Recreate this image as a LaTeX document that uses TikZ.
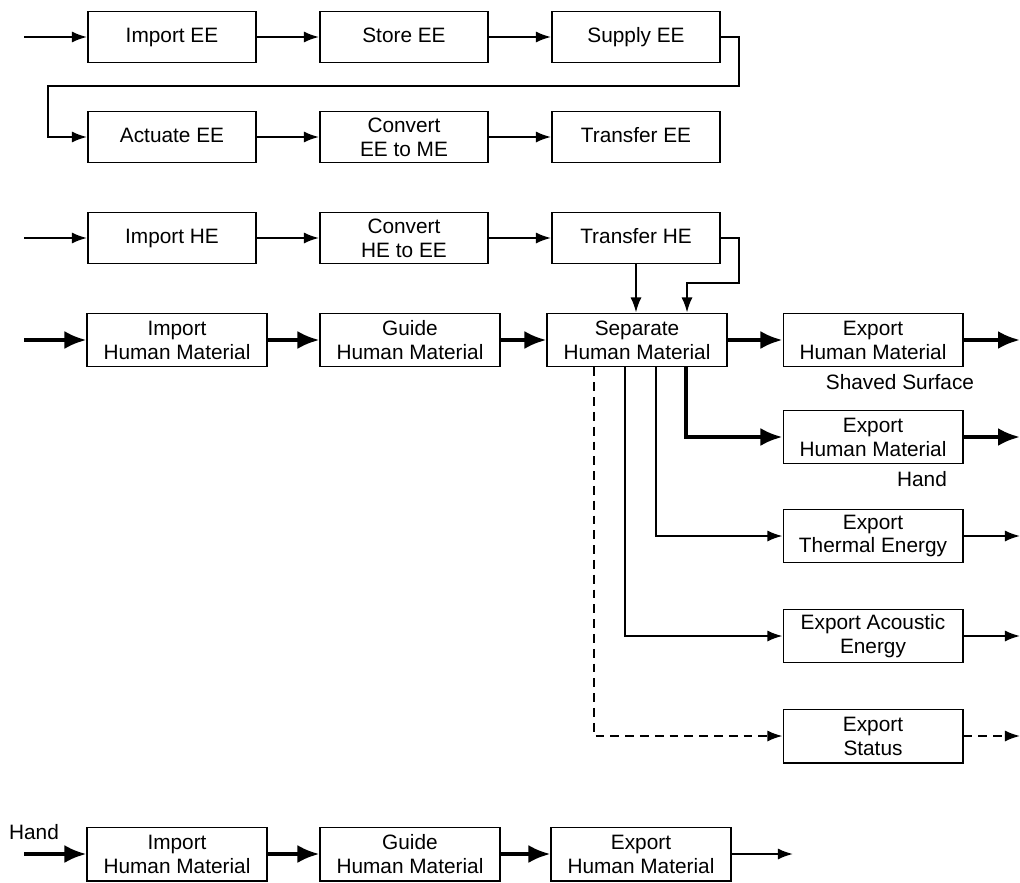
\documentclass[tikz,border=0pt]{standalone}
\usepackage{fontspec}
\setmainfont{Liberation Sans}
\usetikzlibrary{arrows.meta,positioning,calc}

\begin{document}
\begin{tikzpicture}[x=0.025cm, y=-0.025cm,
  every node/.style={font=\fontsize{14.8}{17}\selectfont, align=center},
  fn/.style={draw, line width=1.4pt, inner sep=0pt, minimum width=4.2cm, minimum height=1.275cm},
  fnone/.style={fn, text height=0.9em, text depth=0.18em},
  fnw/.style={fn, minimum width=4.475cm, minimum height=1.325cm},
  flow/.style={line width=1.4pt, -{Latex[length=0.38cm,width=0.28cm]}},
  hflow/.style={line width=2.8pt, -{Latex[length=0.55cm,width=0.45cm]}},
  sflow/.style={flow, dash pattern=on 0.22cm off 0.15cm}]
\useasboundingbox (0,0) rectangle (1020,882);

% Electrical energy chain
\node[fnone] (impee) at (172,37) {Import EE};
\node[fnone] (stoee) at (404,37) {Store EE};
\node[fnone] (supee) at (636,37) {Supply EE};
\node[fnone] (actee) at (172,137) {Actuate EE};
\node[fn] (conee) at (404,137) {Convert\\EE to ME};
\node[fnone] (trnee) at (636,137) {Transfer EE};

% Human energy chain
\node[fnone] (imphe) at (172,238) {Import HE};
\node[fn] (conhe) at (404,238) {Convert\\HE to EE};
\node[fnone] (trnhe) at (636,238) {Transfer HE};

% Human material chain
\node[fnw] (imphm) at (177,340) {Import\\Human Material};
\node[fnw] (guihm) at (410,340) {Guide\\Human Material};
\node[fnw] (sephm) at (637,340) {Separate\\Human Material};
\node[fnw] (exphm) at (873,340) {Export\\Human Material};
\node[fnw] (exphd) at (873,437) {Export\\Human Material};
\node[fnw] (expth) at (873,536) {Export\\Thermal Energy};
\node[fnw] (expac) at (873,636) {Export Acoustic\\Energy};
\node[fnw] (expst) at (873,736) {Export\\Status};
\node (lblss) at (900,382) {Shaved Surface};
\node (lblhd) at (922,479) {Hand};

% Hand only
\node[fnw] (imph2) at (177,854) {Import\\Human Material};
\node[fnw] (guih2) at (410,854) {Guide\\Human Material};
\node[fnw] (exph2) at (641,854) {Export\\Human Material};
\node (lblh2) at (34,832) {Hand};

% Free ends
\coordinate (inee) at (24,37);
\coordinate (inhe) at (24,238);
\coordinate (inhm) at (24,340);
\coordinate (inh2) at (24,854);
\coordinate (outss) at (1020,340);
\coordinate (outhd) at (1020,437);
\coordinate (outth) at (1020,536);
\coordinate (outac) at (1020,636);
\coordinate (outst) at (1020,736);
\coordinate (outh2) at (793,854);

% EE flows
\draw[flow] (inee) -- (impee);
\draw[flow] (impee) -- (stoee);
\draw[flow] (stoee) -- (supee);
\draw[flow] (supee.east) -| (739,86) -| (48,137) -- (actee.west);
\draw[flow] (actee) -- (conee);
\draw[flow] (conee) -- (trnee);

% HE flows
\draw[flow] (inhe) -- (imphe);
\draw[flow] (imphe) -- (conhe);
\draw[flow] (conhe) -- (trnhe);
\draw[flow] (trnhe.south) -- (trnhe.south |- sephm.north);
\draw[flow] (trnhe.east) -| (739,283) -| ([xshift=1.25cm]sephm.north);

% Material flows
\draw[hflow] (inhm) -- (imphm);
\draw[hflow] (imphm) -- (guihm);
\draw[hflow] (guihm) -- (sephm);
\draw[hflow] (sephm) -- (exphm);
\draw[hflow] (exphm) -- (outss);
\draw[hflow] ([xshift=1.225cm]sephm.south) |- (exphd.west);
\draw[hflow] (exphd) -- (outhd);
\draw[flow] ([xshift=0.475cm]sephm.south) |- (expth.west);
\draw[flow] (expth) -- (outth);
\draw[flow] ([xshift=-0.3cm]sephm.south) |- (expac.west);
\draw[flow] (expac) -- (outac);
\draw[sflow] ([xshift=-1.075cm]sephm.south) |- (expst.west);
\draw[sflow] (expst) -- (outst);

% Hand chain
\draw[hflow] (inh2) -- (imph2);
\draw[hflow] (imph2) -- (guih2);
\draw[hflow] (guih2) -- (exph2);
\draw[flow] (exph2) -- (outh2);
\end{tikzpicture}
\end{document}
